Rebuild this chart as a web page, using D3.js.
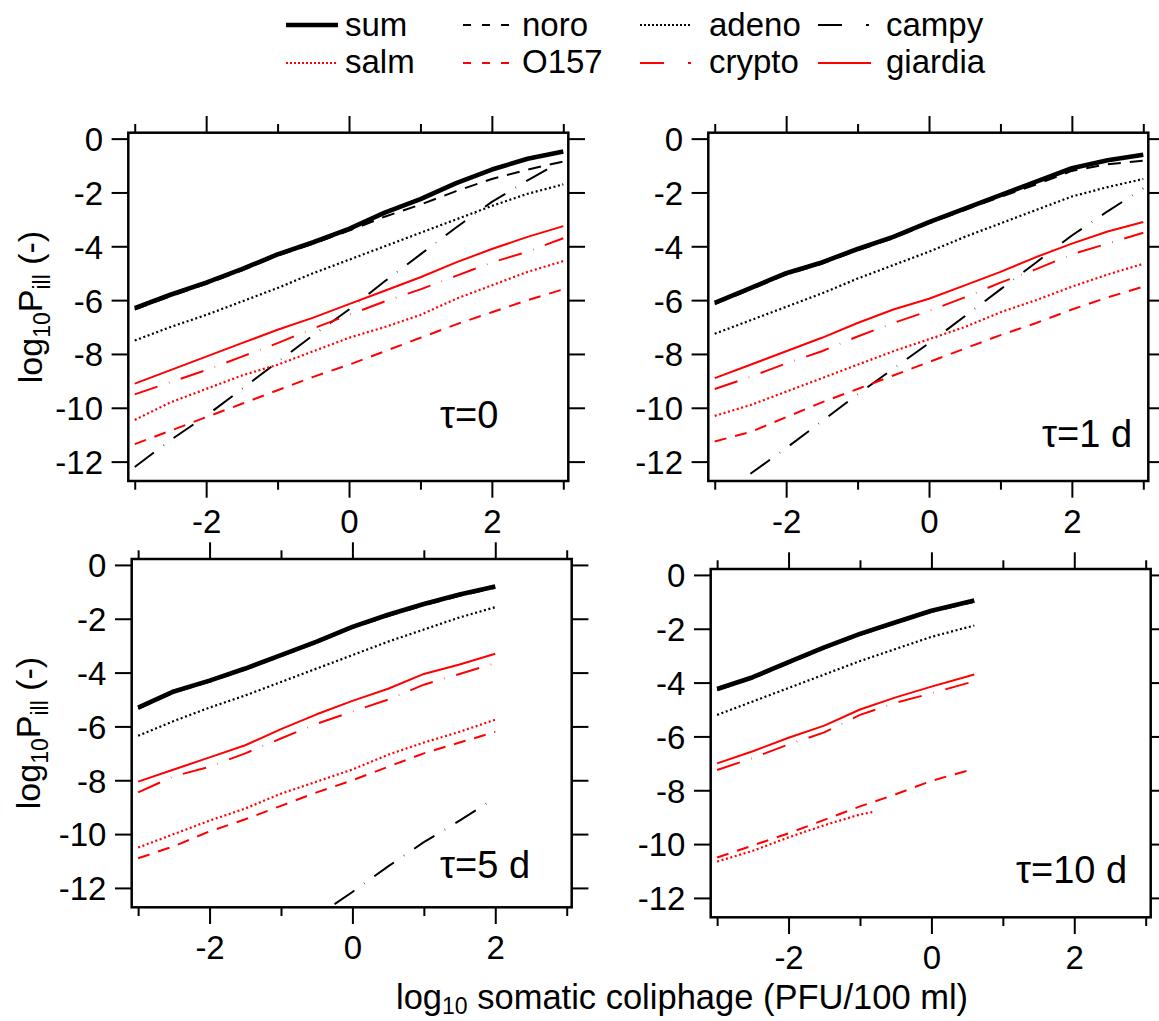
<!DOCTYPE html>
<html><head><meta charset="utf-8">
<script src="https://cdn.jsdelivr.net/npm/d3@7"></script>
<style>
body{margin:0;background:#fff}
svg{display:block}
text{font-family:"Liberation Sans",Arial,Helvetica,sans-serif}
</style></head>
<body>
<svg id="c" width="1159" height="1021"></svg>
<script>
// ---------- data ----------
const seriesNames = ["sum","noro","adeno","campy","salm","O157","crypto","giardia"];
const panelLabels = ["τ=0","τ=1 d","τ=5 d","τ=10 d"];
const xMajorTicks = [-2,0,2];
const xMinorTicks = [-3,-1,1,3];
const yTicks = [0,-2,-4,-6,-8,-10,-12];

const xA = [-3,-2.5,-2,-1.5,-1,-0.5,0,0.5,1,1.5,2,2.5,3];
const xB = [-3,-2.5,-2,-1.5,-1,-0.5,0,0.5,1,1.5,2];
const xC = [-3,-2.5,-2,-1.5,-1,-0.5,0,0.6];
const xB_campy = [-0.25,0,0.5,1,1.5,2];
const xC_salm = [-3,-2.5,-2,-1.5,-1,-0.8];

// tau = 0
const t0_sum     = [-6.3,-5.8,-5.35,-4.85,-4.3,-3.85,-3.35,-2.75,-2.25,-1.65,-1.15,-0.75,-0.48];
const t0_noro    = [-6.35,-5.85,-5.4,-4.9,-4.35,-3.9,-3.42,-2.9,-2.45,-1.95,-1.5,-1.15,-0.85];
const t0_adeno   = [-7.5,-7.0,-6.55,-6.05,-5.55,-5.0,-4.5,-4.0,-3.5,-3.0,-2.5,-2.05,-1.7];
const t0_campy   = [-12.2,-11.2,-10.3,-9.3,-8.3,-7.3,-6.35,-5.3,-4.3,-3.3,-2.35,-1.55,-0.8];
const t0_salm    = [-10.45,-9.8,-9.3,-8.8,-8.4,-7.9,-7.4,-7.0,-6.55,-5.95,-5.45,-4.95,-4.55];
const t0_O157    = [-11.35,-10.85,-10.35,-9.85,-9.35,-8.85,-8.4,-7.9,-7.4,-6.9,-6.45,-6.0,-5.6];
const t0_crypto  = [-9.5,-9.05,-8.6,-8.1,-7.6,-7.05,-6.55,-6.05,-5.6,-5.1,-4.6,-4.2,-3.7];
const t0_giardia = [-9.1,-8.6,-8.1,-7.6,-7.1,-6.65,-6.15,-5.65,-5.15,-4.6,-4.1,-3.65,-3.25];

// tau = 1 d
const t1_sum     = [-6.1,-5.55,-5.0,-4.6,-4.1,-3.65,-3.1,-2.6,-2.1,-1.6,-1.1,-0.8,-0.6];
const t1_noro    = [-6.15,-5.6,-5.05,-4.65,-4.15,-3.7,-3.15,-2.65,-2.17,-1.7,-1.2,-0.95,-0.82];
const t1_adeno   = [-7.25,-6.75,-6.25,-5.75,-5.2,-4.7,-4.2,-3.65,-3.15,-2.65,-2.15,-1.8,-1.5];
const t1_campy   = [null,-12.45,-11.5,-10.5,-9.5,-8.55,-7.6,-6.6,-5.6,-4.6,-3.6,-2.7,-1.85];
const t1_salm    = [-10.3,-9.9,-9.4,-8.9,-8.4,-7.9,-7.45,-7.0,-6.45,-6.0,-5.5,-5.05,-4.65];
const t1_O157    = [-11.25,-10.9,-10.35,-9.8,-9.3,-8.8,-8.3,-7.8,-7.3,-6.85,-6.35,-5.9,-5.5];
const t1_crypto  = [-9.3,-8.85,-8.35,-7.9,-7.35,-6.85,-6.4,-5.9,-5.35,-4.85,-4.3,-3.9,-3.5];
const t1_giardia = [-8.9,-8.4,-7.9,-7.4,-6.85,-6.35,-5.95,-5.45,-4.95,-4.4,-3.9,-3.45,-3.1];

// tau = 5 d
const t5_sum     = [-5.3,-4.7,-4.3,-3.85,-3.35,-2.85,-2.3,-1.85,-1.45,-1.1,-0.8];
const t5_noro    = [-5.34,-4.74,-4.34,-3.89,-3.39,-2.89,-2.34,-1.9,-1.5,-1.15,-0.85];
const t5_adeno   = [-6.35,-5.8,-5.3,-4.85,-4.35,-3.85,-3.35,-2.85,-2.4,-1.95,-1.57];
const t5_campy   = [-12.6,-12.15,-11.2,-10.3,-9.5,-8.65];
const t5_salm    = [-10.5,-10.0,-9.5,-9.05,-8.5,-8.05,-7.6,-7.05,-6.6,-6.2,-5.75];
const t5_O157    = [-10.9,-10.45,-9.9,-9.45,-8.95,-8.45,-8.0,-7.5,-7.0,-6.6,-6.2];
const t5_crypto  = [-8.45,-7.85,-7.5,-7.0,-6.45,-5.9,-5.45,-5.0,-4.45,-4.05,-3.65];
const t5_giardia = [-8.05,-7.6,-7.15,-6.7,-6.1,-5.55,-5.05,-4.6,-4.05,-3.7,-3.3];

// tau = 10 d
const t10_sum     = [-4.24,-3.8,-3.24,-2.69,-2.19,-1.76,-1.33,-0.95];
const t10_noro    = [-4.28,-3.84,-3.28,-2.73,-2.23,-1.8,-1.37,-1.0];
const t10_adeno   = [-5.2,-4.7,-4.2,-3.7,-3.2,-2.75,-2.3,-1.88];
const t10_salm    = [-10.65,-10.25,-9.75,-9.3,-8.9,-8.8];
const t10_O157    = [-10.5,-10.05,-9.6,-9.1,-8.6,-8.15,-7.65,-7.2];
const t10_crypto  = [-7.25,-6.8,-6.3,-5.85,-5.2,-4.75,-4.4,-3.95];
const t10_giardia = [-7.0,-6.55,-6.05,-5.6,-5.0,-4.55,-4.15,-3.7];

// ---------- assembly ----------
const panelSeries = [
  {noro:[xA,t0_noro], adeno:[xA,t0_adeno], campy:[xA,t0_campy], salm:[xA,t0_salm], O157:[xA,t0_O157], crypto:[xA,t0_crypto], giardia:[xA,t0_giardia], sum:[xA,t0_sum]},
  {noro:[xA,t1_noro], adeno:[xA,t1_adeno], campy:[xA,t1_campy], salm:[xA,t1_salm], O157:[xA,t1_O157], crypto:[xA,t1_crypto], giardia:[xA,t1_giardia], sum:[xA,t1_sum]},
  {noro:[xB,t5_noro], adeno:[xB,t5_adeno], campy:[xB_campy,t5_campy], salm:[xB,t5_salm], O157:[xB,t5_O157], crypto:[xB,t5_crypto], giardia:[xB,t5_giardia], sum:[xB,t5_sum]},
  {noro:[xC,t10_noro], adeno:[xC,t10_adeno], salm:[xC_salm,t10_salm], O157:[xC,t10_O157], crypto:[xC,t10_crypto], giardia:[xC,t10_giardia], sum:[xC,t10_sum]}
];
const drawOrder = ["noro","adeno","campy","salm","O157","crypto","giardia","sum"];

const styles = {
  sum:    {c:"#000", w:4.6, d:null,             ld:null},
  noro:   {c:"#000", w:2,   d:"13,9",           ld:"8,11"},
  adeno:  {c:"#000", w:2.2, d:"2,2.6",          ld:"2,2"},
  campy:  {c:"#000", w:2,   d:"24,12,0.5,12",   ld:"24,24,3,60"},
  salm:   {c:"#f00", w:2.2, d:"2,2.6",          ld:"2,2"},
  O157:   {c:"#f00", w:2,   d:"12,9",           ld:"8,11"},
  crypto: {c:"#f00", w:2,   d:"24,12,0.5,12",   ld:"24,24,3,60"},
  giardia:{c:"#f00", w:2,   d:null,             ld:null}
};

const layout = [
  {left:128.3, top:132.7, lx:440,  ly:428.3, ytitle:[42,307]},
  {left:708.3, top:132.7, lx:1042, ly:447.3},
  {left:131.7, top:559,   lx:440,  ly:878.3, ytitle:[40,733]},
  {left:710.7, top:569,   lx:1016, ly:883.3}
];
const PW = 440, PH = 348.3;
const xDomain = [-3.09, 3.07], yDomain = [-12.72, 0.22];
const FONT = '"Liberation Sans",Arial,Helvetica,sans-serif';

const svg = d3.select("#c");
svg.append("rect").attr("width",1159).attr("height",1021).attr("fill","#fff");

layout.forEach((L, i) => {
  const g = svg.append("g").attr("transform", `translate(${L.left},${L.top})`);
  const x = d3.scaleLinear().domain(xDomain).range([0, PW]);
  const y = d3.scaleLinear().domain(yDomain).range([PH, 0]);

  svg.append("clipPath").attr("id", "clip" + i)
    .append("rect").attr("width", PW).attr("height", PH);

  const lg = g.append("g").attr("clip-path", `url(#clip${i})`);
  drawOrder.forEach(name => {
    const s = panelSeries[i][name];
    if (!s) return;
    const pts = s[0].map((xv, k) => [xv, s[1][k]]);
    const line = d3.line().defined(p => p[1] !== null).x(p => x(p[0])).y(p => y(p[1]));
    const st = styles[name];
    lg.append("path").attr("d", line(pts))
      .attr("fill", "none").attr("stroke", st.c).attr("stroke-width", st.w)
      .attr("stroke-dasharray", st.d).attr("stroke-linejoin", "round");
  });

  g.append("rect").attr("width", PW).attr("height", PH)
    .attr("fill", "none").attr("stroke", "#000").attr("stroke-width", 2.5);

  const styleAxis = sel => {
    sel.select(".domain").remove();
    sel.selectAll(".tick line").attr("stroke", "#000").attr("stroke-width", 2);
    sel.attr("font-family", FONT).attr("font-size", 33);
  };

  g.append("g").attr("transform", `translate(0,${PH})`)
    .call(d3.axisBottom(x).tickValues(xMajorTicks).tickSize(16.7).tickSizeOuter(0).tickFormat(d => String(d)))
    .call(styleAxis)
    .call(a => a.selectAll("text").attr("y", 52).attr("dy", null).attr("fill", "#000"));
  g.append("g").attr("transform", `translate(0,${PH})`)
    .call(d3.axisBottom(x).tickValues(xMinorTicks).tickSize(8.7).tickSizeOuter(0).tickFormat(""))
    .call(styleAxis);
  g.append("g")
    .call(d3.axisTop(x).tickValues(xMajorTicks).tickSize(16.7).tickSizeOuter(0).tickFormat(""))
    .call(styleAxis);
  g.append("g")
    .call(d3.axisTop(x).tickValues(xMinorTicks).tickSize(8.7).tickSizeOuter(0).tickFormat(""))
    .call(styleAxis);
  g.append("g")
    .call(d3.axisLeft(y).tickValues(yTicks).tickSize(16.7).tickSizeOuter(0).tickFormat(d => String(d)))
    .call(styleAxis)
    .call(a => a.selectAll("text").attr("x", -25.3).attr("dy", "0.36em").attr("fill", "#000"));
  g.append("g").attr("transform", `translate(${PW},0)`)
    .call(d3.axisRight(y).tickValues(yTicks).tickSize(16.7).tickSizeOuter(0).tickFormat(""))
    .call(styleAxis);

  svg.append("text").attr("x", L.lx).attr("y", L.ly)
    .attr("font-size", 38).attr("fill", "#000").text(panelLabels[i]);

  if (L.ytitle) {
    const t = svg.append("text")
      .attr("transform", `translate(${L.ytitle[0]},${L.ytitle[1]}) rotate(-90)`)
      .attr("text-anchor", "middle").attr("font-size", 34).attr("fill", "#000");
    t.append("tspan").text("log");
    t.append("tspan").attr("font-size", 23).attr("dy", 8).text("10");
    t.append("tspan").attr("dy", -8).text("P");
    t.append("tspan").attr("font-size", 23).attr("dy", 8).text("ill");
    t.append("tspan").attr("dy", -8).text(" (-)");
  }
});

{
  const t = svg.append("text").attr("x", 396).attr("y", 1009)
    .attr("font-size", 34.5).attr("fill", "#000");
  t.append("tspan").text("log");
  t.append("tspan").attr("font-size", 23).attr("dy", 5).text("10");
  t.append("tspan").attr("dy", -5).text(" somatic coliphage (PFU/100 ml)");
}

const legendRows = [["sum","noro","adeno","campy"],["salm","O157","crypto","giardia"]];
const legLineStart = [286, 463, 640, 818];
const legLineEnd   = [338, 510, 692, 871];
const legTextX     = [345, 522, 709, 886];
const legLineY     = [25, 63];
const legTextY     = [36, 73];
legendRows.forEach((row, r) => {
  row.forEach((name, c) => {
    const st = styles[name];
    svg.append("line")
      .attr("x1", legLineStart[c]).attr("x2", legLineEnd[c])
      .attr("y1", legLineY[r]).attr("y2", legLineY[r])
      .attr("stroke", st.c).attr("stroke-width", st.w)
      .attr("stroke-dasharray", st.ld);
    svg.append("text").attr("x", legTextX[c]).attr("y", legTextY[r])
      .attr("font-size", 33).attr("fill", "#000").text(name);
  });
});
</script>
</body></html>
